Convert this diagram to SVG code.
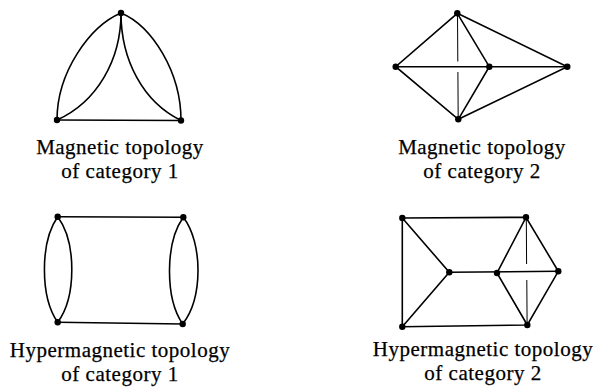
<svg xmlns="http://www.w3.org/2000/svg" width="595" height="388" viewBox="0 0 595 388">
<style>
.e{fill:none;stroke:#000;stroke-width:1.6;stroke-linecap:round}
.t{fill:none;stroke:#000;stroke-width:1}
.n{fill:#000}
text{font-family:"Liberation Serif","Times New Roman",serif;font-size:21px;letter-spacing:0.5px;fill:#000;stroke:#000;stroke-width:0.25;text-anchor:middle}
</style>
<rect width="595" height="388" fill="#fff"/>
<g id="connectors">
<!-- panel 1 -->
<path class="e" d="M121,13 C90,26 57,72 57,120"/>
<path class="e" d="M121,13 C121,60 97,102 57,120"/>
<path class="e" d="M121,13 C152,26 181,72 181,120.5"/>
<path class="e" d="M121,13 C121,60 143,102 181,120.5"/>
<path class="e" d="M57,120 L181,120.5"/>
<!-- panel 2 -->
<path class="e" d="M457.3,13.3 L395.7,66.7 L458.3,119.3 L567.3,66.7 Z"/>
<path class="e" d="M395.7,66.7 L567.3,66.7"/>
<path class="e" d="M457.3,13.3 L489.3,66.7 L458.3,119.3"/>
<path class="t" d="M457.5,13.3 L457.8,61.5 M457.9,72 L458.2,119.3"/>
<!-- panel 3 -->
<path class="e" d="M57.7,216.7 L183.3,217.3 M57.7,322.3 L182.7,324"/>
<path class="e" d="M57.7,216.7 C40,242 40,297 57.7,322.3"/>
<path class="e" d="M57.7,216.7 C76.5,242 76.5,297 57.7,322.3"/>
<path class="e" d="M183.3,217.3 C165,243 165,298 182.7,324"/>
<path class="e" d="M183.3,217.3 C203,243 203,298 182.7,324"/>
<!-- panel 4 -->
<path class="e" d="M402.3,218 L526,217.3 L558.3,271.3 L527.3,325 L402.3,326.7 Z"/>
<path class="e" d="M402.3,218 L449.3,272.3 L402.3,326.7"/>
<path class="e" d="M449.3,272.3 L558.3,271.3"/>
<path class="e" d="M526,217.3 L497,273 L527.3,325"/>
<path class="t" d="M526.3,217.3 L526.6,264 M526.8,280 L527.1,325"/>
</g>
<g id="node-p1-top"><circle class="n" cx="121" cy="13" r="3.2"/></g>
<g id="node-p1-bl"><circle class="n" cx="57" cy="120" r="3.2"/></g>
<g id="node-p1-br"><circle class="n" cx="181" cy="120.5" r="3.2"/></g>
<g id="node-p2-top"><circle class="n" cx="457.3" cy="13.3" r="3.2"/></g>
<g id="node-p2-left"><circle class="n" cx="395.7" cy="66.7" r="3.2"/></g>
<g id="node-p2-mid"><circle class="n" cx="489.3" cy="66.7" r="3.2"/></g>
<g id="node-p2-right"><circle class="n" cx="567.3" cy="66.7" r="3.2"/></g>
<g id="node-p2-bottom"><circle class="n" cx="458.3" cy="119.3" r="3.2"/></g>
<g id="node-p3-tl"><circle class="n" cx="57.7" cy="216.7" r="3.2"/></g>
<g id="node-p3-tr"><circle class="n" cx="183.3" cy="217.3" r="3.2"/></g>
<g id="node-p3-bl"><circle class="n" cx="57.7" cy="322.3" r="3.2"/></g>
<g id="node-p3-br"><circle class="n" cx="182.7" cy="324" r="3.2"/></g>
<g id="node-p4-tl"><circle class="n" cx="402.3" cy="218" r="3.2"/></g>
<g id="node-p4-tr"><circle class="n" cx="526" cy="217.3" r="3.2"/></g>
<g id="node-p4-cl"><circle class="n" cx="449.3" cy="272.3" r="3.2"/></g>
<g id="node-p4-cm"><circle class="n" cx="497" cy="273" r="3.2"/></g>
<g id="node-p4-r"><circle class="n" cx="558.3" cy="271.3" r="3.2"/></g>
<g id="node-p4-bl"><circle class="n" cx="402.3" cy="326.7" r="3.2"/></g>
<g id="node-p4-br"><circle class="n" cx="527.3" cy="325" r="3.2"/></g>
<g id="labels">
<text x="120" y="154">Magnetic topology</text>
<text x="120" y="178">of category 1</text>
<text x="482" y="154">Magnetic topology</text>
<text x="482" y="178">of category 2</text>
<text x="120" y="356.5">Hypermagnetic topology</text>
<text x="120" y="380.5">of category 1</text>
<text x="483" y="356">Hypermagnetic topology</text>
<text x="483" y="380">of category 2</text>
</g>
</svg>
